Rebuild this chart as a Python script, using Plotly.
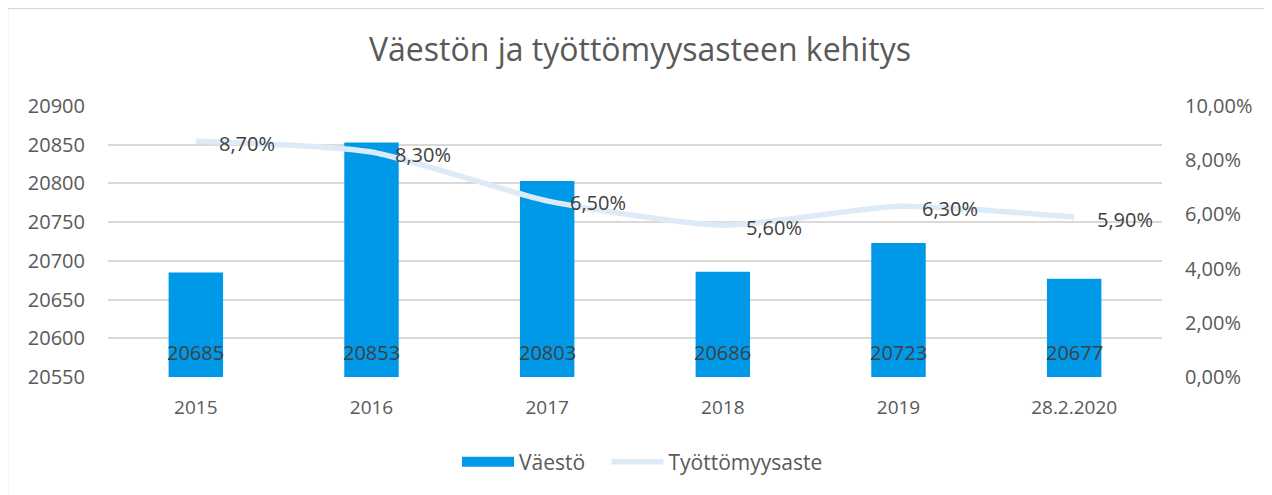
import plotly.graph_objects as go

categories = ["2015", "2016", "2017", "2018", "2019", "28.2.2020"]
vaesto = [20685, 20853, 20803, 20686, 20723, 20677]
tyottomyys = [0.087, 0.083, 0.065, 0.056, 0.063, 0.059]

left_ticks = [20550, 20600, 20650, 20700, 20750, 20800, 20850, 20900]
right_ticks = [0, 0.02, 0.04, 0.06, 0.08, 0.10]

Y_MIN, Y_MAX = left_ticks[0], left_ticks[-1]

def fi_pct(v):
    return f"{v*100:.2f}".replace(".", ",") + "%"

FONT = "Open Sans, Noto Sans, DejaVu Sans, sans-serif"
TXT = "#595959"
LBL = "#404040"
BAR = "#0099E8"
LINE = "#DDEBF9"

fig = go.Figure()
fig.add_trace(go.Bar(
    x=categories, y=[v - Y_MIN for v in vaesto], base=Y_MIN, name="Väestö",
    marker=dict(color=BAR, line=dict(width=0)), width=0.31,
    showlegend=False, cliponaxis=False,
))
# legend proxy for the bar series (wide swatch as in the reference)
fig.add_trace(go.Scatter(
    x=[None], y=[None], mode="lines", name="Väestö\u00a0\u00a0\u00a0",
    line=dict(color=BAR, width=14),
))
fig.add_trace(go.Scatter(
    x=categories, y=tyottomyys, name="Työttömyysaste", yaxis="y2",
    mode="lines",
    line=dict(color=LINE, width=5.5, shape="spline", smoothing=0.6),
    cliponaxis=False,
))

# annotations on a category axis are placed by category index
annotations = []
for i, v in enumerate(vaesto):
    annotations.append(dict(
        x=i, y=Y_MIN, xref="x", yref="y", text=str(v), showarrow=False,
        xanchor="center", yanchor="middle", yshift=25,
        font=dict(color=LBL, size=20, family=FONT)))
for i, v in enumerate(tyottomyys):
    annotations.append(dict(
        x=i, y=v, xref="x", yref="y2", text=fi_pct(v), showarrow=False,
        xanchor="left", yanchor="middle", xshift=21, yshift=-2,
        font=dict(color=LBL, size=20, family=FONT)))

fig.update_layout(
    width=1264, height=487,
    margin=dict(l=100, r=110, t=98, b=118),
    paper_bgcolor="white", plot_bgcolor="white",
    font=dict(family=FONT, color=TXT, size=20),
    title=dict(text="Väestön ja työttömyysasteen kehitys", x=0.5, xanchor="center",
               y=0.914, yanchor="middle", yref="container",
               font=dict(size=32, color=TXT, family=FONT)),
    xaxis=dict(type="category", categoryorder="array", categoryarray=categories,
               range=[-0.5, len(categories) - 0.5],
               showgrid=False, showline=False, ticks="", ticklabelstandoff=17,
               tickfont=dict(size=19, color=TXT)),
    yaxis=dict(range=[Y_MIN, Y_MAX], tickvals=left_ticks, tickformat="d",
               showgrid=True, gridcolor="#D9D9D9", gridwidth=2, zeroline=False,
               tickfont=dict(size=20, color=TXT), ticklabelstandoff=22),
    yaxis2=dict(range=[right_ticks[0], right_ticks[-1]], tickvals=right_ticks,
                ticktext=[fi_pct(v) for v in right_ticks], overlaying="y",
                side="right", showgrid=False, zeroline=False,
                tickfont=dict(size=20, color=TXT), ticklabelstandoff=22),
    showlegend=True,
    legend=dict(orientation="h", x=(454 - 100 - 5) / 1054, xanchor="left",
                y=-0.314, yanchor="middle",
                font=dict(size=21, color=TXT), traceorder="normal",
                itemwidth=52),
    annotations=annotations,
)
fig.add_shape(type="rect", xref="paper", yref="paper",
              x0=-100.5 / 1054, x1=1.2, y0=-0.6, y1=1 + 97.5 / 271,
              line=dict(color="#D9D9D9", width=1.5), fillcolor="rgba(0,0,0,0)", layer="below")

fig.write_html("out.html")
